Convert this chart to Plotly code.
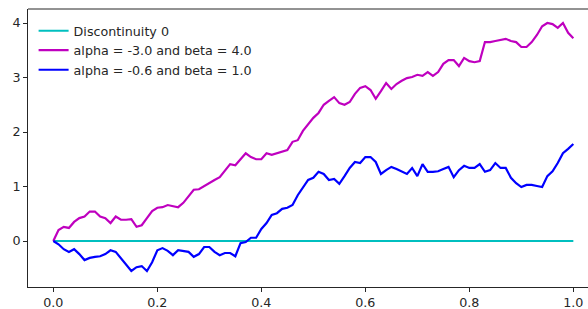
import numpy as np
import plotly.graph_objects as go

t = np.linspace(0.0, 1.0, 101)

disc_x = [0.0, 1.0]
disc_y = [0.0, 0.0]

magenta_y = [0.00, 0.20, 0.26, 0.24, 0.35, 0.42, 0.45, 0.54, 0.54, 0.45,
             0.42, 0.33, 0.45, 0.39, 0.39, 0.40, 0.26, 0.29, 0.42, 0.55,
             0.61, 0.62, 0.66, 0.64, 0.62, 0.70, 0.81, 0.94, 0.95, 1.01,
             1.06, 1.12, 1.17, 1.28, 1.41, 1.39, 1.50, 1.61, 1.54, 1.50,
             1.50, 1.61, 1.58, 1.61, 1.63, 1.67, 1.82, 1.85, 2.02, 2.15,
             2.26, 2.35, 2.50, 2.57, 2.64, 2.53, 2.50, 2.55, 2.70, 2.81,
             2.84, 2.77, 2.61, 2.75, 2.90, 2.79, 2.88, 2.94, 2.99, 3.01,
             3.05, 3.03, 3.10, 3.03, 3.10, 3.25, 3.32, 3.32, 3.21, 3.36,
             3.30, 3.28, 3.30, 3.65, 3.65, 3.67, 3.69, 3.71, 3.67, 3.65,
             3.56, 3.56, 3.65, 3.78, 3.94, 4.00, 3.98, 3.91, 4.00, 3.82,
             3.72]

blue_y = [0.00, -0.06, -0.15, -0.20, -0.15, -0.24, -0.35, -0.31, -0.29, -0.28,
          -0.24, -0.17, -0.20, -0.31, -0.42, -0.55, -0.48, -0.46, -0.55, -0.39,
          -0.17, -0.13, -0.18, -0.26, -0.17, -0.18, -0.20, -0.29, -0.24, -0.11,
          -0.11, -0.20, -0.26, -0.22, -0.22, -0.28, -0.04, -0.02, 0.06, 0.06,
          0.22, 0.33, 0.48, 0.51, 0.59, 0.61, 0.66, 0.84, 0.99, 1.12,
          1.16, 1.27, 1.23, 1.12, 1.14, 1.05, 1.19, 1.34, 1.45, 1.43,
          1.54, 1.54, 1.45, 1.23, 1.30, 1.36, 1.32, 1.28, 1.23, 1.34,
          1.19, 1.41, 1.27, 1.27, 1.28, 1.32, 1.36, 1.17, 1.30, 1.38,
          1.34, 1.34, 1.41, 1.27, 1.30, 1.43, 1.34, 1.34, 1.16, 1.06,
          0.99, 1.03, 1.03, 1.01, 0.99, 1.19, 1.28, 1.43, 1.61, 1.69,
          1.78]

x_ticks = [0.0, 0.2, 0.4, 0.6, 0.8, 1.0]
x_tick_text = ["0.0", "0.2", "0.4", "0.6", "0.8", "1.0"]
y_ticks = [0, 1, 2, 3, 4]
y_tick_text = ["0", "1", "2", "3", "4"]

fig = go.Figure()
fig.add_trace(go.Scatter(x=disc_x, y=disc_y, mode="lines",
                         line=dict(color="#00BFBF", width=2),
                         name="Discontinuity 0"))
fig.add_trace(go.Scatter(x=t, y=magenta_y, mode="lines",
                         line=dict(color="#BF00BF", width=2.2),
                         name="alpha = -3.0 and beta = 4.0"))
fig.add_trace(go.Scatter(x=t, y=blue_y, mode="lines",
                         line=dict(color="#0000FF", width=2.2),
                         name="alpha = -0.6 and beta = 1.0"))

font = dict(family="DejaVu Sans", size=12.7, color="#262626")

fig.update_layout(
    width=588, height=309,
    margin=dict(l=28, r=0, t=9, b=22, autoexpand=False),
    paper_bgcolor="white", plot_bgcolor="white",
    font=font,
    showlegend=True,
    legend=dict(x=0.01, y=0.975, xanchor="left", yanchor="top",
                bgcolor="rgba(255,255,255,0)", borderwidth=0,
                font=font, tracegroupgap=0),
    xaxis=dict(range=[-0.0487, 1.0282], tickvals=x_ticks, ticktext=x_tick_text,
               showgrid=False, zeroline=False, showline=True, automargin=False,
               linecolor="#262626", linewidth=1, ticks="outside",
               ticklen=4, tickcolor="#262626", tickfont=font),
    yaxis=dict(range=[-0.844, 4.257], tickvals=y_ticks, ticktext=y_tick_text,
               showgrid=False, zeroline=False, showline=True, automargin=False,
               linecolor="#262626", linewidth=1, ticks="outside",
               ticklen=4, tickcolor="#262626", tickfont=font),
    shapes=[dict(type="line", xref="paper", yref="paper", x0=0, x1=1,
                 y0=1, y1=1, line=dict(color="#262626", width=1))],
)

fig.write_html("out.html",
               config={"displayModeBar": False},
               post_script="document.body.style.margin='0';document.body.style.overflow='hidden';")
